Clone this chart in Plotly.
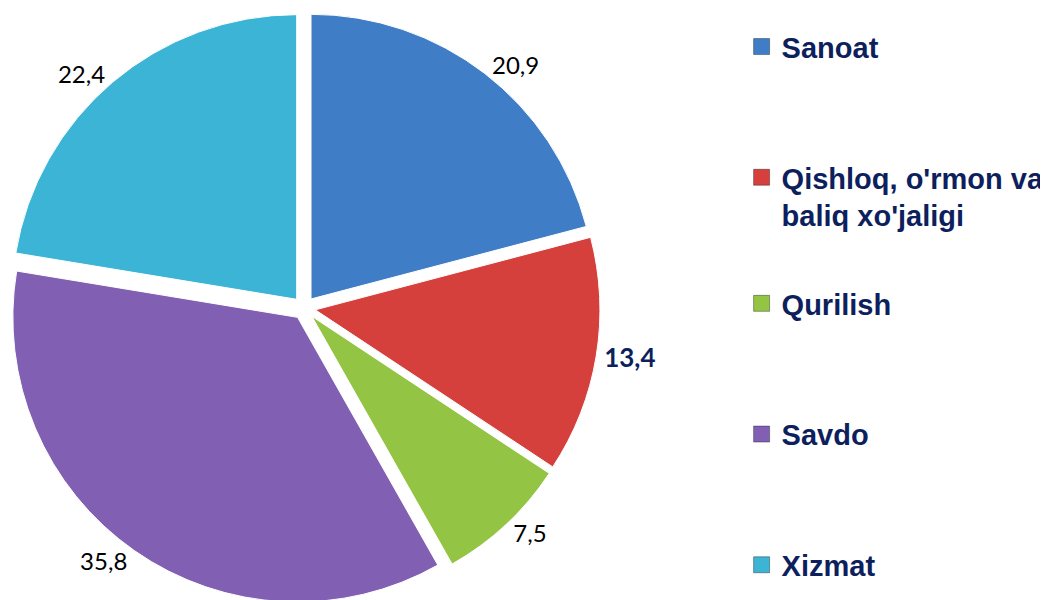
import plotly.graph_objects as go

sectors = ['Sanoat', "Qishloq, o'rmon va<br>baliq xo'jaligi", 'Qurilish', 'Savdo', 'Xizmat']
shares = [20.9, 13.4, 7.5, 35.8, 22.4]
colors = ['#3F7DC6', '#D5403D', '#93C443', '#8160B4', '#3BB4D6']
bold_label = 1  # the 13,4 label is highlighted

labels_txt = []
for i, v in enumerate(shares):
    s = f'{v:.1f}'.replace('.', ',')
    labels_txt.append(f'<b>{s}</b>' if i == bold_label else s)
label_colors = ['#0D1F5C' if i == bold_label else '#000000' for i in range(len(shares))]
label_sizes = [26 if i == bold_label else 24 for i in range(len(shares))]
label_font = dict(family='Lato', size=label_sizes, color=label_colors)

fig = go.Figure()
fig.add_trace(go.Pie(
    labels=sectors,
    values=shares,
    text=labels_txt,
    textinfo='text',
    textposition='outside',
    textfont=label_font,
    outsidetextfont=label_font,
    marker=dict(colors=colors, line=dict(color='white', width=1)),
    pull=[0.04] * len(shares),
    sort=False,
    direction='clockwise',
    rotation=0,
    domain=dict(x=[0, 0.565], y=[0, 1]),
    showlegend=False,
))

# legend entries, split over two legends so the vertical spacing can follow the original
for i, (name, col) in enumerate(zip(sectors, colors)):
    fig.add_trace(go.Scatter(
        x=[None], y=[None], mode='markers', name=name, legendgroup=name,
        legend='legend' if i < 2 else 'legend2',
        marker=dict(symbol='square', size=16, color=col,
                    line=dict(color='rgba(0,0,0,0.35)', width=1)),
    ))

legend_font = dict(family='Liberation Sans', size=29, color='#0D1F5C', weight='bold')

fig.update_layout(
    width=1048, height=600,
    margin=dict(l=0, r=0, t=0, b=0, autoexpand=False),
    paper_bgcolor='white', plot_bgcolor='white',
    xaxis=dict(visible=False), yaxis=dict(visible=False),
    legend=dict(
        x=0.70, y=0.978, xanchor='left', yanchor='top',
        font=legend_font, tracegroupgap=90, valign='top', bgcolor='rgba(0,0,0,0)',
    ),
    legend2=dict(
        x=0.70, y=0.55, xanchor='left', yanchor='top',
        font=legend_font, tracegroupgap=90, valign='top', bgcolor='rgba(0,0,0,0)',
    ),
)

fig.write_html('out.html')
